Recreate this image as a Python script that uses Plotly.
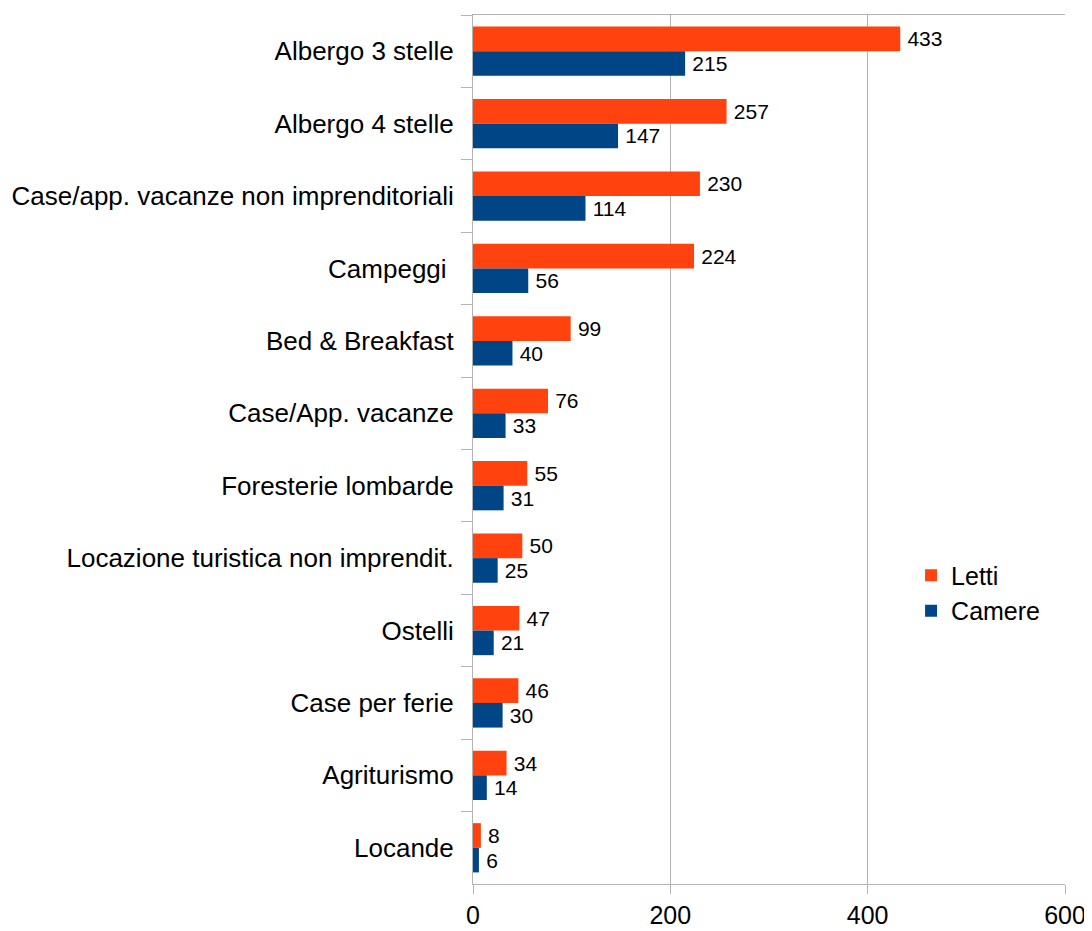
import plotly.graph_objects as go

categories = ["Albergo 3 stelle", "Albergo 4 stelle", "Case/app. vacanze non imprenditoriali",
              "Campeggi ", "Bed & Breakfast", "Case/App. vacanze", "Foresterie lombarde",
              "Locazione turistica non imprendit.", "Ostelli", "Case per ferie", "Agriturismo", "Locande"]
letti = [433, 257, 230, 224, 99, 76, 55, 50, 47, 46, 34, 8]
camere = [215, 147, 114, 56, 40, 33, 31, 25, 21, 30, 14, 6]
x_ticks = [0, 200, 400, 600]

FONT = "Liberation Sans, Arial, sans-serif"
GRID = "#b3b3b3"

fig = go.Figure()
fig.add_trace(go.Bar(y=categories, x=letti, name="Letti", orientation="h",
                     marker=dict(color="#ff420e", line=dict(width=0)),
                     texttemplate="\u2009%{x}", textposition="outside", cliponaxis=False,
                     textfont=dict(family=FONT, size=21, color="black")))
fig.add_trace(go.Bar(y=categories, x=camere, name="Camere", orientation="h",
                     marker=dict(color="#004586", line=dict(width=0)),
                     texttemplate="\u2009%{x}", textposition="outside", cliponaxis=False,
                     textfont=dict(family=FONT, size=21, color="black")))

# page body has an 8px margin, so size/margins are compensated
fig.update_layout(
    width=1084, height=923,
    margin=dict(l=465, r=27, t=7, b=47),
    paper_bgcolor="white", plot_bgcolor="white",
    barmode="group", bargap=0.32, bargroupgap=0,
    font=dict(family=FONT, size=25, color="black"),
    legend=dict(x=0.74, y=0.335, xanchor="left", yanchor="middle",
                font=dict(family=FONT, size=25, color="black"),
                bgcolor="rgba(0,0,0,0)", itemwidth=30, tracegroupgap=0),
    xaxis=dict(range=[0, 600], tickvals=x_ticks, showgrid=True, gridcolor=GRID, gridwidth=1,
               zeroline=False, showline=True, linecolor=GRID, linewidth=1, mirror=True,
               ticks="outside", ticklen=9, tickcolor=GRID, automargin=False,
               tickfont=dict(family=FONT, size=25, color="black")),
    yaxis=dict(autorange="reversed", showgrid=False, zeroline=False,
               showline=True, linecolor=GRID, linewidth=1, automargin=False,
               ticks="outside", ticklen=11, tickcolor=GRID, tickson="boundaries",
               ticklabelstandoff=13,
               tickfont=dict(family=FONT, size=26, color="black")),
)

fig.write_html("out.html")
